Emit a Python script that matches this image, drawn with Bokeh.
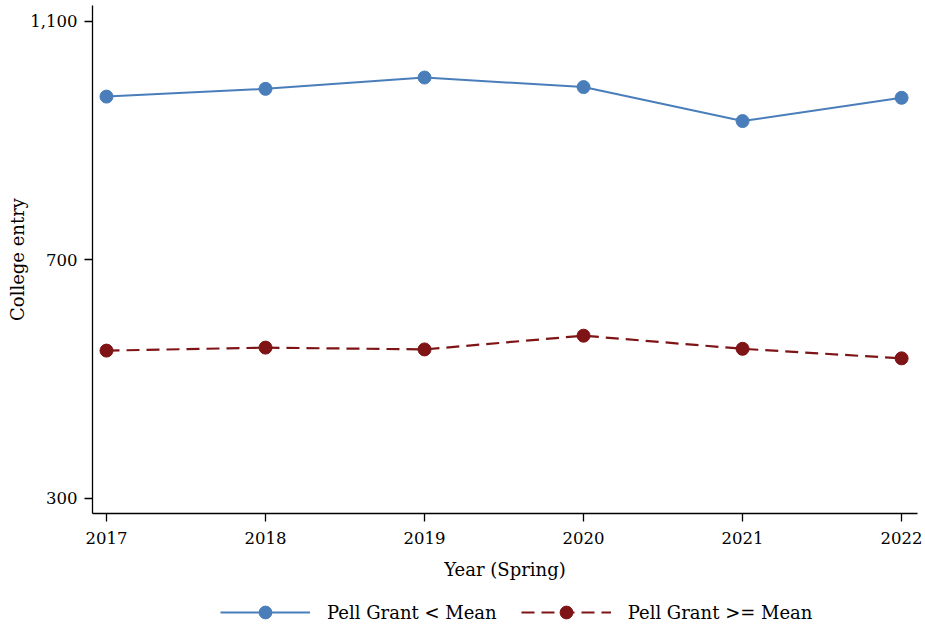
from bokeh.plotting import figure
from bokeh.layouts import column
from bokeh.models import FixedTicker, NumeralTickFormatter, Legend, LegendItem, Range1d
from bokeh.embed import file_html
from bokeh.resources import INLINE

years = [2017, 2018, 2019, 2020, 2021, 2022]
pell_below = [974, 987, 1006, 990, 933, 972]
pell_above = [548, 553, 550, 573, 551, 535]
y_ticks = [300, 700, 1100]
series_labels = ["Pell Grant < Mean", "Pell Grant >= Mean"]

FONT = "DejaVu Serif"
BLUE = "#4a7ebb"
RED = "#7f1416"
DASH = "13 7"

p = figure(width=925, height=587, output_backend="svg", toolbar_location=None,
           x_range=Range1d(2016.912, 2022.1), y_range=Range1d(274.8, 1126.8),
           min_border_left=92, min_border_right=8, min_border_top=5,
           min_border_bottom=74)
p.outline_line_color = None
p.xgrid.grid_line_color = None
p.ygrid.grid_line_color = None

p.line(years, pell_below, line_color=BLUE, line_width=2)
p.scatter(years, pell_below, size=13, fill_color=BLUE, line_color=BLUE)
p.line(years, pell_above, line_color=RED, line_width=2.2, line_dash=DASH)
p.scatter(years, pell_above, size=13, fill_color=RED, line_color=RED)

for ax in (p.xaxis[0], p.yaxis[0]):
    ax.major_tick_in = 0
    ax.major_tick_out = 8
    ax.minor_tick_out = 0
    ax.minor_tick_in = 0
    ax.axis_line_color = "black"
    ax.axis_line_width = 1.3
    ax.major_tick_line_color = "black"
    ax.major_tick_line_width = 1.3
    ax.major_label_text_font = FONT
    ax.major_label_text_font_size = "16.5px"
    ax.major_label_text_color = "black"
    ax.axis_label_text_font = FONT
    ax.axis_label_text_font_size = "18px"
    ax.axis_label_text_font_style = "normal"
    ax.axis_label_text_color = "black"

p.xaxis.ticker = FixedTicker(ticks=years)
p.yaxis.ticker = FixedTicker(ticks=y_ticks)
p.yaxis.formatter = NumeralTickFormatter(format="0,0")
p.yaxis.major_label_orientation = "horizontal"
p.xaxis.axis_label = "Year (Spring)"
p.yaxis.axis_label = "College entry"
p.xaxis.major_label_standoff = 10
p.xaxis.axis_label_standoff = 12
p.yaxis.major_label_standoff = 7
p.yaxis.axis_label_standoff = -1

# legend strip: same series drawn outside its visible range, so only the legend shows
lf = figure(width=925, height=38, output_backend="svg", toolbar_location=None,
            x_range=Range1d(0, 1), y_range=Range1d(0, 1),
            x_axis_location=None, y_axis_location=None,
            min_border_left=0, min_border_right=0, min_border_top=0, min_border_bottom=0)
lf.outline_line_color = None
lf.xgrid.grid_line_color = None
lf.ygrid.grid_line_color = None
a1 = lf.line(years, pell_below, line_color=BLUE, line_width=2)
b1 = lf.scatter(years, pell_below, size=13, fill_color=BLUE, line_color=BLUE)
a2 = lf.line(years, pell_above, line_color=RED, line_width=2.2, line_dash=DASH)
b2 = lf.scatter(years, pell_above, size=13, fill_color=RED, line_color=RED)

legend = Legend(items=[LegendItem(label=series_labels[0], renderers=[a1, b1]),
                       LegendItem(label=series_labels[1], renderers=[a2, b2])],
                orientation="horizontal", location=(128, -3),
                glyph_width=90, glyph_height=32, label_height=20,
                label_text_font=FONT, label_text_font_size="18px",
                label_text_color="black",
                label_standoff=17, spacing=24,
                border_line_color=None, background_fill_alpha=0,
                padding=0, margin=0)
lf.add_layout(legend, "center")

layout = column(p, lf, spacing=0)
open("out.html", "w").write(file_html(layout, INLINE))
